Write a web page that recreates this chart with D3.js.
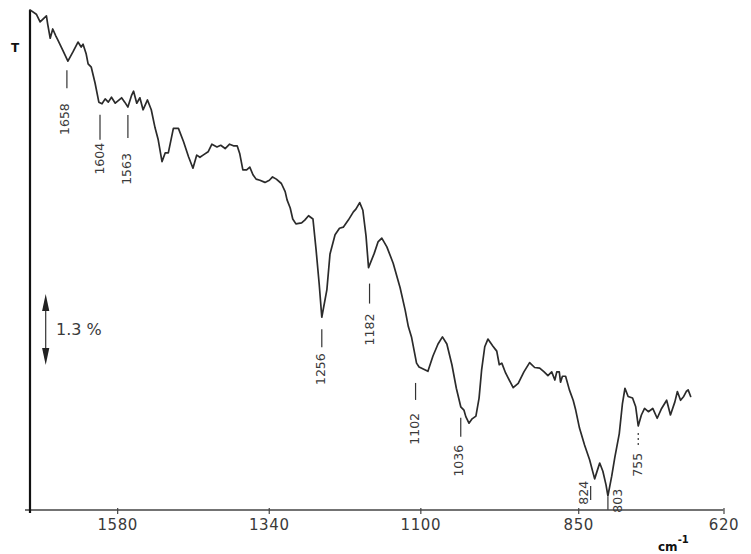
<!DOCTYPE html>
<html>
<head>
<meta charset="utf-8">
<script src="https://cdn.jsdelivr.net/npm/d3@7"></script>
<style>
  html, body { margin: 0; padding: 0; background: #fff; }
  svg { display: block; }
  text { font-family: "DejaVu Sans", sans-serif; }
</style>
</head>
<body>
<svg id="chart" width="751" height="554"></svg>
<script>
// IR transmission spectrum: [wavenumber (cm^-1), transmittance (%)]
const spectrum = [
  [1718,9.16],[1708,9.08],[1702,8.94],[1692,9.05],[1690,8.90],[1686,8.64],[1682,8.81],[1677,8.68],
  [1674,8.61],[1666,8.42],[1658,8.22],[1650,8.39],[1642,8.57],[1637,8.48],[1634,8.53],[1629,8.35],
  [1626,8.17],[1621,8.11],[1615,7.82],[1609,7.47],[1604,7.44],[1599,7.53],[1594,7.47],[1589,7.56],
  [1583,7.45],[1573,7.55],[1568,7.47],[1563,7.38],[1557,7.60],[1554,7.67],[1549,7.45],[1544,7.55],
  [1539,7.33],[1532,7.51],[1526,7.33],[1520,7.00],[1515,6.78],[1509,6.38],[1504,6.54],[1499,6.54],
  [1491,6.99],[1483,6.99],[1475,6.75],[1467,6.47],[1460,6.26],[1454,6.50],[1449,6.46],[1444,6.50],
  [1436,6.56],[1430,6.70],[1422,6.65],[1416,6.68],[1409,6.62],[1402,6.70],[1396,6.67],[1390,6.67],
  [1386,6.53],[1381,6.23],[1375,6.23],[1370,6.28],[1365,6.14],[1360,6.06],[1354,6.04],[1346,6.00],
  [1339,6.04],[1334,6.10],[1328,6.06],[1320,5.98],[1314,5.83],[1311,5.68],[1306,5.53],[1302,5.33],
  [1297,5.24],[1288,5.26],[1283,5.31],[1277,5.39],[1270,5.33],[1265,4.76],[1260,4.12],[1256,3.53],
  [1248,4.03],[1243,4.69],[1235,5.04],[1228,5.16],[1222,5.18],[1214,5.31],[1206,5.46],[1202,5.51],
  [1196,5.63],[1191,5.49],[1186,5.02],[1182,4.44],[1173,4.70],[1167,4.91],[1161,4.98],[1153,4.82],
  [1143,4.52],[1132,4.07],[1124,3.66],[1119,3.36],[1114,3.17],[1106,2.69],[1102,2.62],[1088,2.54],
  [1080,2.82],[1072,3.04],[1065,3.17],[1058,3.04],[1050,2.66],[1043,2.23],[1036,1.89],[1031,1.83],
  [1028,1.71],[1023,1.59],[1018,1.67],[1012,1.72],[1007,2.05],[1003,2.56],[998,2.99],[993,3.13],
  [985,3.00],[979,2.91],[975,2.66],[971,2.69],[965,2.51],[953,2.24],[945,2.32],[936,2.53],
  [927,2.70],[919,2.61],[911,2.60],[904,2.53],[898,2.46],[892,2.53],[887,2.38],[884,2.53],
  [880,2.53],[878,2.34],[875,2.45],[870,2.45],[864,2.20],[858,2.01],[854,1.83],[848,1.50],
  [840,1.19],[832,0.92],[824,0.57],[821,0.68],[816,0.86],[811,0.71],[806,0.46],[803,0.26],
  [797,0.62],[792,0.97],[785,1.40],[780,1.95],[776,2.23],[771,2.08],[764,2.05],[759,1.89],
  [755,1.54],[750,1.74],[745,1.86],[739,1.80],[732,1.86],[725,1.68],[718,1.86],[710,2.01],
  [704,1.74],[697,1.98],[693,2.17],[688,2.01],[683,2.08],[679,2.17],[676,2.20],[672,2.08]
];

// Band positions marked on the trace (cm^-1)
const bandLabels = [1658, 1604, 1563, 1256, 1182, 1102, 1036, 824, 803, 755];

// Wavenumber axis ticks
const xTicks = [1580, 1340, 1100, 850, 620];

// Scale bar for transmittance (%)
const scaleBarSpan = 1.3;
const scaleBarLabel = "1.3 %";
const yAxisTitle = "T";
const xAxisUnit = "cm";
const xAxisUnitExp = "-1";

// ---- layout ----
const svg = d3.select("#chart");
const plot = { left: 30, right: 723.5, top: 10, bottom: 510 };

const x = d3.scaleLinear().domain([1718, 620]).range([plot.left, plot.right]);
const y = d3.scaleLinear().domain([0, 500 / 54.6]).range([plot.bottom, plot.top]);

const ink = "#2b2b2b";
const textInk = "#3a3a3a";

// x axis line (runs slightly past the y axis on the left)
svg.append("line")
  .attr("x1", plot.left - 5).attr("x2", plot.right)
  .attr("y1", plot.bottom).attr("y2", plot.bottom)
  .attr("stroke", "#444").attr("stroke-width", 1.3);

const xAxis = d3.axisBottom(x)
  .tickValues(xTicks)
  .tickFormat(d3.format("d"))
  .tickSize(4)
  .tickSizeOuter(0)
  .tickPadding(5);

const gx = svg.append("g")
  .attr("transform", `translate(0,${plot.bottom})`)
  .call(xAxis);
gx.select(".domain").remove();
gx.selectAll(".tick line").attr("stroke", "#444").attr("stroke-width", 1.2)
  .attr("y1", -2);
gx.selectAll(".tick text")
  .attr("fill", textInk)
  .attr("font-size", 15)
  .attr("letter-spacing", 0.6)
  .style("font-family", "DejaVu Sans, sans-serif");

// y axis: a bare vertical rule
svg.append("line")
  .attr("x1", plot.left).attr("x2", plot.left)
  .attr("y1", plot.top).attr("y2", plot.bottom + 3)
  .attr("stroke", "#111").attr("stroke-width", 2.2);

svg.append("text")
  .attr("x", 15).attr("y", 52)
  .attr("text-anchor", "middle")
  .attr("font-size", 12).attr("font-weight", "bold")
  .attr("fill", "#111")
  .text(yAxisTitle);

// unit label
const unit = svg.append("text")
  .attr("x", 658).attr("y", 551)
  .attr("font-size", 12).attr("font-weight", "bold")
  .attr("fill", "#111");
unit.append("tspan").text(xAxisUnit);
unit.append("tspan").attr("dy", -8).attr("font-size", 10).text(xAxisUnitExp);

// spectrum trace
const line = d3.line()
  .x(d => x(d[0]))
  .y(d => y(d[1]));

svg.append("path")
  .datum(spectrum)
  .attr("fill", "none")
  .attr("stroke", ink)
  .attr("stroke-width", 1.7)
  .attr("stroke-linejoin", "round")
  .attr("stroke-linecap", "round")
  .attr("d", line);

// band annotations: short marker under the band, value written vertically
const valueAt = w => spectrum.find(d => d[0] === w)[1];
const bandLayout = {
  1658: { t0: 9,  t1: 27, top: 42, dx: -1, tdx: -3 },
  1604: { t0: 11, t1: 36, top: 39, dx: -2, tdx: -3 },
  1563: { t0: 8,  t1: 31, top: 46, dx: 0,  tdx: -1 },
  1256: { t0: 12, t1: 30, top: 36, dx: 0,  tdx: -1 },
  1182: { t0: 16, t1: 36, top: 46, dx: 1,  tdx: 1 },
  1102: { t0: 16, t1: 33, top: 46, dx: -3.5, tdx: -5 },
  1036: { t0: 11, t1: 30, top: 38, dx: 0,  tdx: -2 },
  824:  { t0: 7,  t1: 21, top: 2,  dx: -4, tdx: -11 },
  803:  { t0: 1,  t1: 14, top: -7, dx: 0,  tdx: 10 },
  755:  { t0: 7,  t1: 21, top: 27, dx: 0,  tdx: -1, dotted: true }
};

const ann = svg.append("g");
bandLabels.forEach(w => {
  const L = bandLayout[w];
  const bx = x(w);
  const by = y(valueAt(w));
  ann.append("line")
    .attr("x1", bx + L.dx).attr("x2", bx + L.dx)
    .attr("y1", by + L.t0).attr("y2", by + L.t1)
    .attr("stroke", "#333")
    .attr("stroke-width", 1.2)
    .attr("stroke-dasharray", L.dotted ? "2,3" : null);
  ann.append("text")
    .attr("transform", `translate(${bx + L.tdx},${by + L.top}) rotate(-90)`)
    .attr("text-anchor", "end")
    .attr("dominant-baseline", "central")
    .attr("font-size", 12.5)
    .attr("fill", textInk)
    .text(w);
});

// transmittance scale bar (double-headed arrow)
const barX = 45.7;
const barTop = y(3.956);
const barBottom = y(3.956 - scaleBarSpan);
const head = 17, halfW = 3.6;
svg.append("line")
  .attr("x1", barX).attr("x2", barX)
  .attr("y1", barTop + head - 2).attr("y2", barBottom - head + 2)
  .attr("stroke", "#333").attr("stroke-width", 1.2);
svg.append("path")
  .attr("d", `M${barX},${barTop} L${barX - halfW},${barTop + head} L${barX + halfW},${barTop + head} Z`)
  .attr("fill", "#222");
svg.append("path")
  .attr("d", `M${barX},${barBottom} L${barX - halfW},${barBottom - head} L${barX + halfW},${barBottom - head} Z`)
  .attr("fill", "#222");
svg.append("text")
  .attr("x", 56).attr("y", (barTop + barBottom) / 2 + 6)
  .attr("font-size", 16)
  .attr("fill", textInk)
  .text(scaleBarLabel);
</script>
</body>
</html>
